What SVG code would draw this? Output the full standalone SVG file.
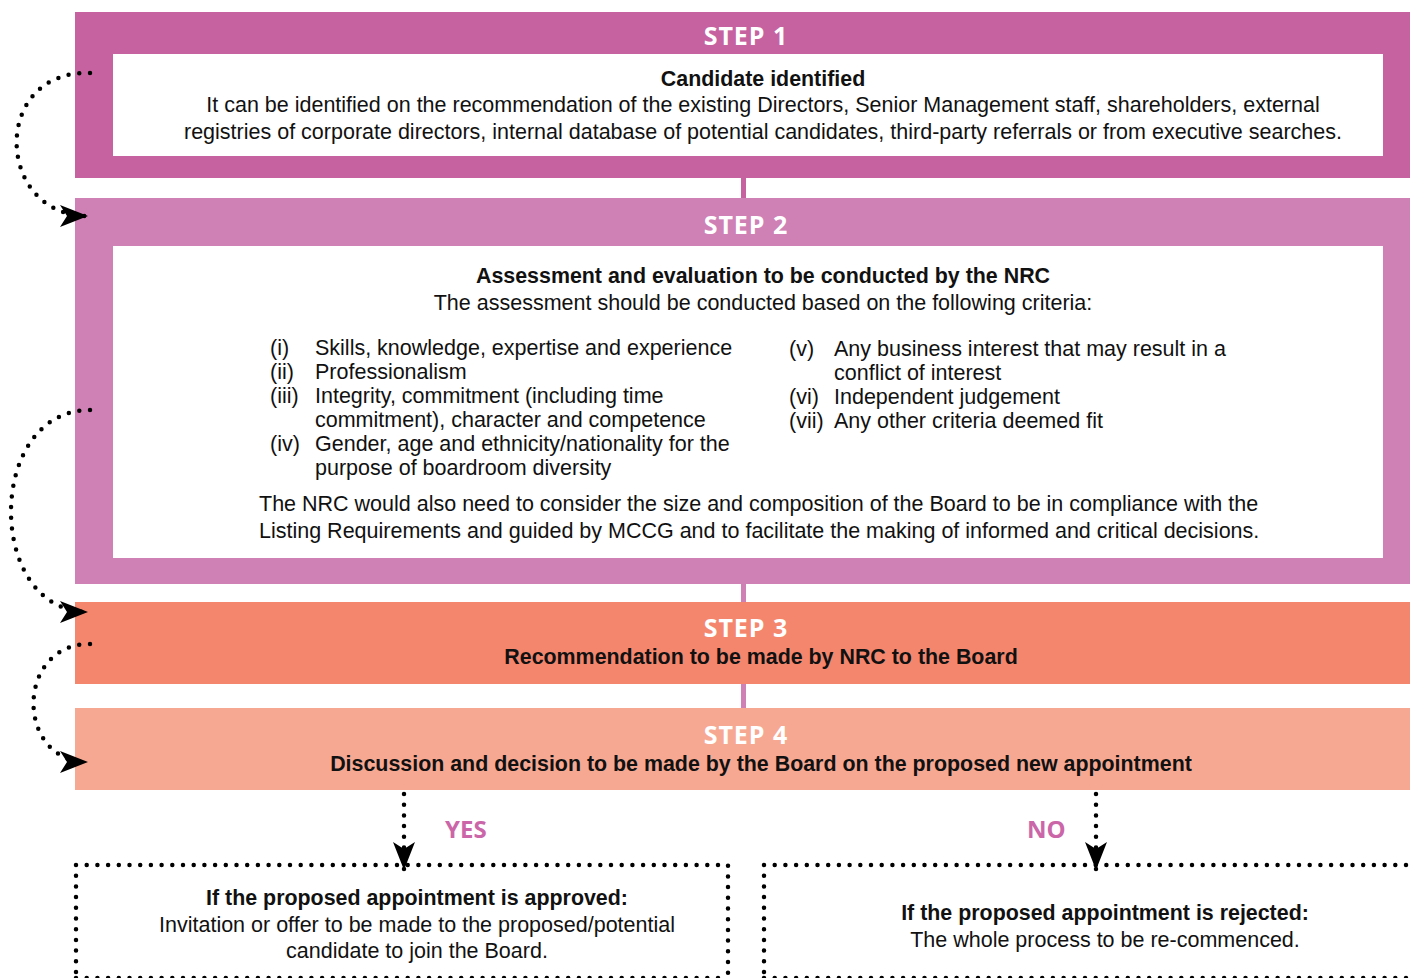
<svg xmlns="http://www.w3.org/2000/svg" width="1410" height="978" viewBox="0 0 1410 978">
<style>
.t{font-family:"Liberation Sans",Arial,sans-serif;font-size:21.5px;fill:#111}
.b{font-weight:bold;font-size:21.4px}
.m{text-anchor:middle}
.step{font-family:"Open Sans","DejaVu Sans",sans-serif;font-weight:bold;font-size:25px;fill:#fff;text-anchor:middle;letter-spacing:1px}
.yn{font-family:"Open Sans","DejaVu Sans",sans-serif;font-weight:bold;font-size:24px;fill:#CB66A8}
.dot{fill:none;stroke:#000;stroke-width:4.5;stroke-linecap:round;stroke-dasharray:0 10.7}
</style>
<defs>
<marker id="ah" markerUnits="userSpaceOnUse" markerWidth="30" markerHeight="24" refX="28" refY="12" orient="auto" overflow="visible">
<path d="M0,1 L28,12 L0,23 L7,12 Z" fill="#000"/>
</marker>
</defs>
<rect width="1410" height="978" fill="#fff"/>
<g id="connectors-v">
<rect x="741" y="176" width="5" height="24" fill="#C6629F"/>
<rect x="741" y="582" width="5" height="22" fill="#CF80B5"/>
<rect x="741" y="682" width="5" height="28" fill="#CF80B5"/>
</g>
<g id="step1">
<rect x="75" y="12" width="1335" height="166" fill="#C6629F"/>
<rect x="113" y="54" width="1270" height="102" fill="#fff"/>
<text class="step" x="746" y="45">STEP 1</text>
<text class="t b m" x="763" y="86">Candidate identified</text>
<text class="t m" x="763" y="112">It can be identified on the recommendation of the existing Directors, Senior Management staff, shareholders, external</text>
<text class="t m" x="763" y="139">registries of corporate directors, internal database of potential candidates, third-party referrals or from executive searches.</text>
</g>
<g id="step2">
<rect x="75" y="198" width="1335" height="386" fill="#CF80B5"/>
<rect x="113" y="246" width="1270" height="312" fill="#fff"/>
<text class="step" x="746" y="234">STEP 2</text>
<text class="t b m" x="763" y="283">Assessment and evaluation to be conducted by the NRC</text>
<text class="t m" x="763" y="310">The assessment should be conducted based on the following criteria:</text>
<text class="t" x="270" y="355">(i)</text><text class="t" x="315" y="355">Skills, knowledge, expertise and experience</text>
<text class="t" x="270" y="379">(ii)</text><text class="t" x="315" y="379">Professionalism</text>
<text class="t" x="270" y="403">(iii)</text><text class="t" x="315" y="403">Integrity, commitment (including time</text>
<text class="t" x="315" y="427">commitment), character and competence</text>
<text class="t" x="270" y="451">(iv)</text><text class="t" x="315" y="451">Gender, age and ethnicity/nationality for the</text>
<text class="t" x="315" y="475">purpose of boardroom diversity</text>
<text class="t" x="789" y="356">(v)</text><text class="t" x="834" y="356">Any business interest that may result in a</text>
<text class="t" x="834" y="380">conflict of interest</text>
<text class="t" x="789" y="404">(vi)</text><text class="t" x="834" y="404">Independent judgement</text>
<text class="t" x="789" y="428">(vii)</text><text class="t" x="834" y="428">Any other criteria deemed fit</text>
<text class="t" x="259" y="511">The NRC would also need to consider the size and composition of the Board to be in compliance with the</text>
<text class="t" x="259" y="538">Listing Requirements and guided by MCCG and to facilitate the making of informed and critical decisions.</text>
</g>
<g id="step3">
<rect x="75" y="602" width="1335" height="82" fill="#F5866E"/>
<text class="step" x="746" y="637">STEP 3</text>
<text class="t b m" x="761" y="664">Recommendation to be made by NRC to the Board</text>
</g>
<g id="step4">
<rect x="75" y="708" width="1335" height="82" fill="#F7A892"/>
<text class="step" x="746" y="744">STEP 4</text>
<text class="t b m" x="761" y="771">Discussion and decision to be made by the Board on the proposed new appointment</text>
</g>
<g id="approved">
<path class="dot" d="M76,865 H728 V982 M76,865 V982 M76,978 H728"/>
<text class="t b m" x="417" y="905">If the proposed appointment is approved:</text>
<text class="t m" x="417" y="932">Invitation or offer to be made to the proposed/potential</text>
<text class="t m" x="417" y="958">candidate to join the Board.</text>
</g>
<g id="rejected">
<path class="dot" d="M764,865 H1415 M764,865 V982 M764,978 H1415"/>
<text class="t b m" x="1105" y="920">If the proposed appointment is rejected:</text>
<text class="t m" x="1105" y="947">The whole process to be re-commenced.</text>
</g>
<g id="labels">
<text class="yn" x="445" y="838">YES</text>
<text class="yn" x="1027" y="838">NO</text>
</g>
<g id="connectors">
<path class="dot" d="M90,73 C-10,70 -5,216 88,216" marker-end="url(#ah)"/>
<path class="dot" d="M90,410 C-15,410 -15,612 88,612" marker-end="url(#ah)"/>
<path class="dot" d="M90,644 C15,644 15,762 88,762" marker-end="url(#ah)"/>
<path class="dot" d="M404,794 V870" marker-end="url(#ah)"/>
<path class="dot" d="M1096,794 V870" marker-end="url(#ah)"/>
</g>
</svg>
